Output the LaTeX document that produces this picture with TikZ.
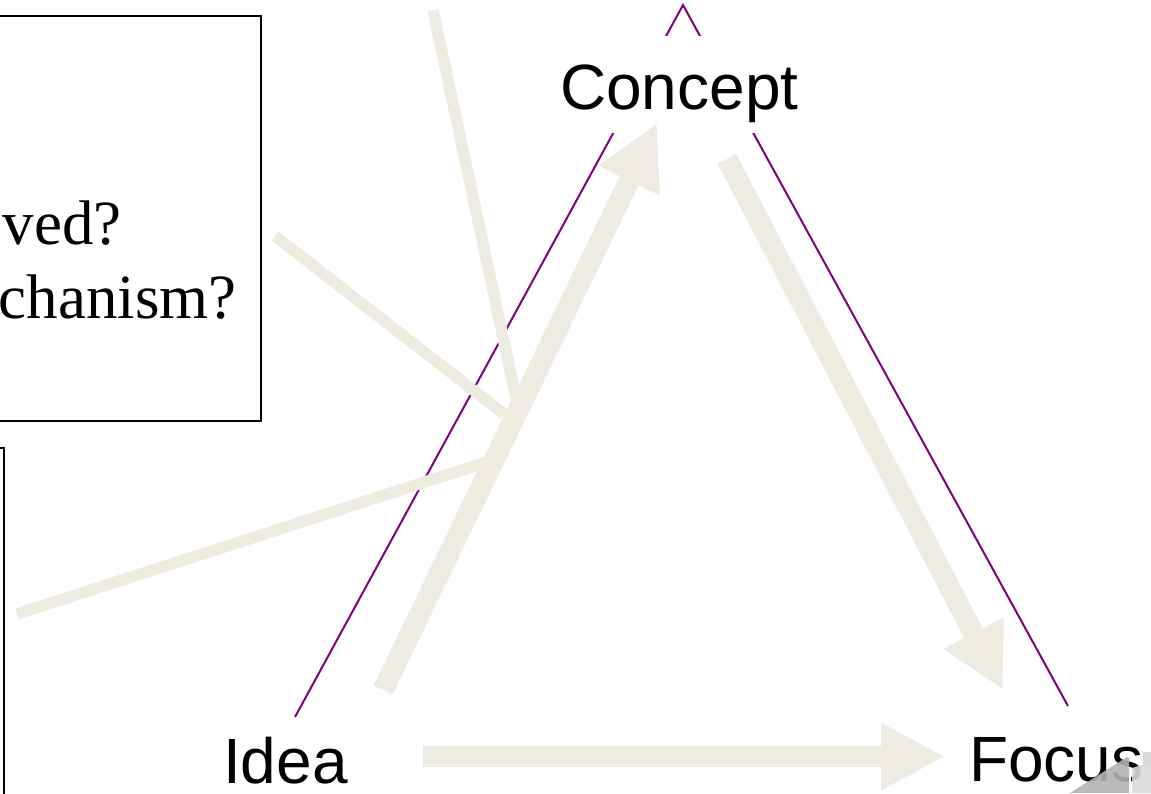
\documentclass[tikz,border=0pt]{standalone}
\usepackage{fontspec}
\setmainfont{Liberation Serif}
\newfontfamily\arialfont{Liberation Sans}
\usetikzlibrary{arrows.meta}
\definecolor{cream}{HTML}{EEECE1}
\definecolor{tripurple}{HTML}{800080}

\begin{document}
\begin{tikzpicture}[x=1pt,y=-1pt,
  corner/.style={font=\arialfont\fontsize{64}{70}\selectfont, inner sep=0pt, anchor=base west},
  boxtext/.style={font=\fontsize{63}{72}\selectfont, inner sep=0pt, anchor=base east},
  frame/.style={draw=black, line width=2.4pt},
  leg/.style={draw=tripurple, line width=2pt},
  flow/.style={draw=cream, line width=21pt, -{Triangle[length=64pt,width=63pt]}},
  callout/.style={draw=cream, line width=11.5pt},
]
\useasboundingbox (0,0) rectangle (1151,793);

% text boxes on the left
\draw[frame] (-20,16) rectangle (261,421);
\node[boxtext] (q1) at (122,244) {ved?};
\node[boxtext] (q2) at (237,318) {chanism?};
\draw[frame] (-20,448) rectangle (4,830);

% triangle legs
\coordinate (apex) at (683,5);
\coordinate (lbot) at (295,717);
\coordinate (rbot) at (1068,706);
\draw[leg] (lbot) -- (apex) -- (rbot);

% corner labels
\node[corner, fill=white, text height=63pt, text depth=14pt, inner ysep=10pt] (concept) at (560,109) {Concept};
\node[corner] (idea) at (223,783) {Idea};
\node[corner] (focus) at (969,781) {Focus};

% callout connectors
\coordinate (c1a) at (433,10);  \coordinate (c1b) at (516,398);
\coordinate (c2a) at (275,236); \coordinate (c2b) at (504,414);
\coordinate (c3a) at (17,614);  \coordinate (c3b) at (490,461);
\draw[callout] (c1a) -- (c1b);
\draw[callout] (c2a) -- (c2b);
\draw[callout] (c3a) -- (c3b);

% cycle arrows
\coordinate (aStart) at (383,690); \coordinate (aTip) at (657,123);
\coordinate (bStart) at (727,159); \coordinate (bTip) at (1003,690);
\coordinate (cStart) at (423,756.5); \coordinate (cTip) at (945,756.5);
\draw[flow] (aStart) -- (aTip);
\draw[flow] (bStart) -- (bTip);
\draw[flow] (cStart) -- (cTip);

% sound icon in the corner
\fill[gray!60, opacity=0.9] (1070,793) -- (1127,757) -- (1129,757) -- (1129,793) -- cycle;
\draw[white, line width=1.5pt] (1130,775) -- (1130,793);
\fill[gray!30, opacity=0.9] (1132,768) -- (1151,762) -- (1151,793) -- (1132,793) -- cycle;
\fill[gray!30] (1143,752) rectangle (1151,766);
\end{tikzpicture}
\end{document}
